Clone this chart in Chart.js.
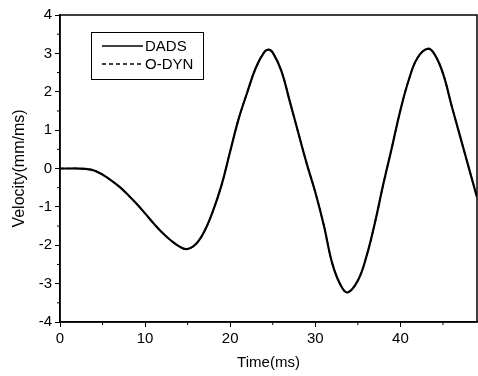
<!DOCTYPE html>
<html>
<head>
<meta charset="utf-8">
<script src="https://cdn.jsdelivr.net/npm/chart.js@4/dist/chart.umd.min.js"></script>
<style>
  html, body { margin: 0; padding: 0; background: #fff; }
  #wrap { width: 478px; height: 376px; position: relative; }
</style>
</head>
<body>
<div id="wrap"><canvas id="velChart"></canvas></div>
<script>
  // time axis (ms)
  const timeMs = [0, 1, 2, 3, 4, 5, 6, 7, 8, 9, 10, 11, 12, 13, 14, 14.9, 16, 17, 18, 19, 20,
    21, 22, 23, 24, 24.5, 25, 26, 27, 28, 29, 30, 31, 32, 33, 33.8, 35, 36, 37, 38, 39, 40,
    41, 42, 43.2, 44, 45, 46, 47, 48, 49];

  // velocity (mm/ms)
  const dadsVel = [0, 0, 0, -0.01, -0.05, -0.16, -0.31, -0.48, -0.69, -0.92, -1.17, -1.43, -1.67, -1.87, -2.03, -2.1, -1.96, -1.62, -1.09, -0.42, 0.45,
    1.3, 1.98, 2.62, 3.03, 3.1, 3.02, 2.55, 1.75, 0.93, 0.12, -0.62, -1.48, -2.48, -3.05, -3.23, -2.92, -2.3, -1.42, -0.4, 0.55, 1.52,
    2.32, 2.88, 3.12, 2.98, 2.48, 1.65, 0.85, 0.05, -0.75];
  const odynVel = [0, 0, 0, -0.01, -0.05, -0.16, -0.31, -0.48, -0.69, -0.92, -1.17, -1.43, -1.67, -1.87, -2.03, -2.1, -1.96, -1.62, -1.09, -0.42, 0.45,
    1.3, 1.98, 2.62, 3.03, 3.1, 3.02, 2.55, 1.75, 0.93, 0.12, -0.62, -1.48, -2.48, -3.05, -3.23, -2.92, -2.3, -1.42, -0.4, 0.55, 1.52,
    2.32, 2.88, 3.12, 2.98, 2.48, 1.65, 0.85, 0.05, -0.75];

  const xTicks = [0, 10, 20, 30, 40];
  const yTicks = [-4, -3, -2, -1, 0, 1, 2, 3, 4];

  const FONT = "'Liberation Sans', Arial, sans-serif";

  // frame + minor ticks
  const framePlugin = {
    id: "frame",
    afterDraw(chart) {
      const { ctx, chartArea: a, scales } = chart;
      ctx.save();
      ctx.strokeStyle = "#000";
      ctx.lineWidth = 1.5;
      ctx.strokeRect(a.left, a.top, a.right - a.left, a.bottom - a.top);
      ctx.lineWidth = 1;
      ctx.beginPath();
      for (let v = 5; v < 49; v += 10) {
        const x = scales.x.getPixelForValue(v);
        ctx.moveTo(x, a.bottom);
        ctx.lineTo(x, a.bottom + 3);
      }
      for (let v = -3.5; v < 4; v += 1) {
        const y = scales.y.getPixelForValue(v);
        ctx.moveTo(a.left, y);
        ctx.lineTo(a.left - 3, y);
      }
      ctx.stroke();
      ctx.restore();
    }
  };

  // legend box inside the plot
  const legendPlugin = {
    id: "boxLegend",
    afterDraw(chart) {
      const { ctx, chartArea: a } = chart;
      const bx = a.left + 31;
      const by = a.top + 17;
      const bw = 112;
      const bh = 47;
      ctx.save();
      ctx.fillStyle = "#fff";
      ctx.fillRect(bx, by, bw, bh);
      ctx.strokeStyle = "#000";
      ctx.lineWidth = 1;
      ctx.strokeRect(bx + 0.5, by + 0.5, bw, bh);
      chart.data.datasets.forEach((ds, i) => {
        const y = by + 14 + i * 18;
        ctx.beginPath();
        ctx.setLineDash(ds.borderDash || []);
        ctx.lineWidth = 1.3;
        ctx.moveTo(bx + 11, y);
        ctx.lineTo(bx + 52, y);
        ctx.stroke();
        ctx.setLineDash([]);
        ctx.fillStyle = "#000";
        ctx.font = "15px " + FONT;
        ctx.textBaseline = "middle";
        ctx.fillText(ds.label, bx + 54, y + 1);
      });
      ctx.restore();
    }
  };

  new Chart(document.getElementById("velChart"), {
    type: "line",
    data: {
      labels: timeMs,
      datasets: [
        {
          label: "DADS",
          data: timeMs.map((t, i) => ({ x: t, y: dadsVel[i] })),
          borderColor: "#000",
          borderWidth: 2.2,
          pointRadius: 0,
          tension: 0.4
        },
        {
          label: "O-DYN",
          data: timeMs.map((t, i) => ({ x: t, y: odynVel[i] })),
          borderColor: "#000",
          borderWidth: 1.5,
          borderDash: [4, 3],
          pointRadius: 0,
          tension: 0.4
        }
      ]
    },
    options: {
      responsive: true,
      maintainAspectRatio: false,
      animation: false,
      layout: { padding: { top: 15, right: 1, left: 10, bottom: 4 } },
      plugins: {
        legend: { display: false },
        tooltip: { enabled: false }
      },
      scales: {
        x: {
          type: "linear",
          min: 0,
          max: 49,
          afterBuildTicks: (scale) => { scale.ticks = xTicks.map((v) => ({ value: v })); },
          afterFit: (scale) => { scale.height = 50; },
          grid: { display: true, drawOnChartArea: false, drawTicks: true, tickLength: 5, color: "#000" },
          border: { display: true, color: "#000", width: 1.5 },
          ticks: { color: "#000", font: { family: FONT, size: 15 }, padding: 3, maxRotation: 0 },
          title: { display: true, text: "Time(ms)", color: "#000", font: { family: FONT, size: 15 }, padding: { top: 2, bottom: 0 } }
        },
        y: {
          min: -4,
          max: 4,
          afterBuildTicks: (scale) => { scale.ticks = yTicks.map((v) => ({ value: v })); },
          afterFit: (scale) => { scale.width = 50; },
          grid: { display: true, drawOnChartArea: false, drawTicks: true, tickLength: 5, color: "#000" },
          border: { display: true, color: "#000", width: 1.5 },
          ticks: { color: "#000", font: { family: FONT, size: 15 }, padding: 3 },
          title: { display: true, text: "Velocity(mm/ms)", color: "#000", font: { family: FONT, size: 16 }, padding: { top: 0, bottom: 6 } }
        }
      }
    },
    plugins: [framePlugin, legendPlugin]
  });
</script>
</body>
</html>
